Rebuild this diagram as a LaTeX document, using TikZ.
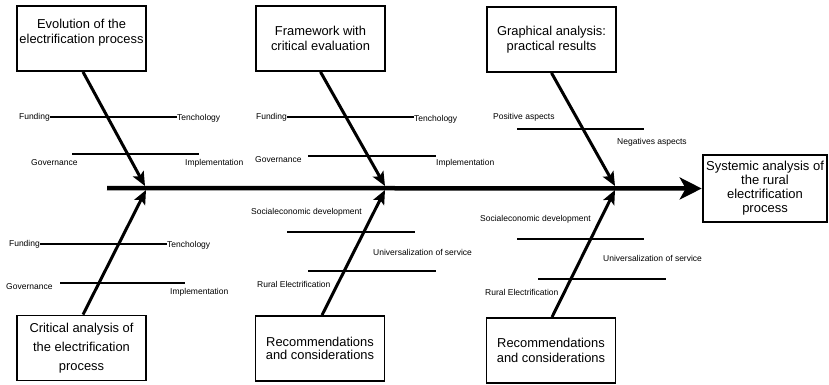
\documentclass[tikz,border=0pt]{standalone}
\usepackage{fontspec}
\setmainfont{Liberation Sans}
\usetikzlibrary{arrows.meta}
\begin{document}
\begin{tikzpicture}[x=1pt,y=-1pt,
  box/.style={draw,line width=1.8pt,minimum width=129pt,minimum height=65pt,inner sep=0pt,align=center,font=\fontsize{12.9}{14.5}\selectfont},
  lbl/.style={inner sep=0pt,font=\fontsize{8.5}{10}\selectfont},
  branch/.style={line width=1.4pt},
  bone/.style={line width=3pt,-{Stealth[length=14pt,width=12pt,inset=3pt]}},
  spine/.style={line width=4.5pt,-{Stealth[length=22pt,width=22pt,inset=6pt]}}]
\useasboundingbox (0,0) rectangle (829,384);
% boxes
\node[box] (b1) at (81.5,38.5) {Evolution of the\\electrification process\\\mbox{}};
\node[box] (b2) at (320.5,38.5) {Framework with\\critical evaluation};
\node[box] (b3) at (551.5,39.5) {Graphical analysis:\\practical results};
\node[box,font=\fontsize{12.9}{19}\selectfont] (b4) at (81.5,348) {Critical analysis of\\the electrification\\process};
\node[box,font=\fontsize{12.9}{13.5}\selectfont] (b5) at (320,348.5) {Recommendations\\and considerations};
\node[box,font=\fontsize{12.9}{14.5}\selectfont] (b6) at (551,350.5) {Recommendations\\and considerations};
\node[box,line width=2.6pt,minimum width=124pt,minimum height=67pt,font=\fontsize{13}{14}\selectfont] (res) at (765,188.5) {Systemic analysis of\\the rural\\electrification\\process};
% spine
\coordinate (s0) at (107,188);
\draw[spine] (s0) -- (res.west);
% tips on spine
\coordinate (t1) at (145,186);
\coordinate (t2) at (385,186);
\coordinate (t3) at (615,186);
\coordinate (u1) at (146,190);
\coordinate (u2) at (385,190);
\coordinate (u3) at (615,190);
\draw[bone] ([xshift=1.5pt]b1.south) -- (t1);
\draw[bone] (b2.south) -- (t2);
\draw[bone] (b3.south) -- (t3);
\draw[bone] ([xshift=1.5pt]b4.north) -- (u1);
\draw[bone] ([xshift=2pt]b5.north) -- (u2);
\draw[bone] ([xshift=1pt]b6.north) -- (u3);
% top group 1
\node[lbl,anchor=east] (f1) at (50,117) {Funding};
\node[lbl,anchor=west] (k1) at (177,118) {Tenchology};
\draw[branch] (f1.east) -- (k1.west |- f1.east);
\node[lbl,anchor=west] (g1) at (31,163) {Governance};
\node[lbl,anchor=west] (i1) at (185,163) {Implementation};
\coordinate (l2a) at (72,154); \coordinate (l2b) at (199,154);
\draw[branch] (l2a) -- (l2b);
% top group 2
\node[lbl,anchor=east] (f2) at (287,117) {Funding};
\node[lbl,anchor=west] (k2) at (414,119) {Tenchology};
\draw[branch] (f2.east) -- (k2.west |- f2.east);
\node[lbl,anchor=west] (g2) at (255,160) {Governance};
\node[lbl,anchor=west] (i2) at (436,163) {Implementation};
\coordinate (l4a) at (308,156); \coordinate (l4b) at (436,156);
\draw[branch] (l4a) -- (l4b);
% top group 3
\node[lbl,anchor=west] (p3) at (493,117) {Positive aspects};
\node[lbl,anchor=west] (n3) at (617,142) {Negatives aspects};
\coordinate (l5a) at (517,129); \coordinate (l5b) at (644,129);
\draw[branch] (l5a) -- (l5b);
% bottom group 1
\node[lbl,anchor=east] (f4) at (40,244) {Funding};
\node[lbl,anchor=west] (k4) at (167,245) {Tenchology};
\draw[branch] (f4.east) -- (k4.west |- f4.east);
\node[lbl,anchor=west] (g4) at (6,287) {Governance};
\node[lbl,anchor=west] (i4) at (170,292) {Implementation};
\coordinate (l7a) at (60,283); \coordinate (l7b) at (185,283);
\draw[branch] (l7a) -- (l7b);
% bottom group 2
\node[lbl,anchor=west] (s5) at (251,212) {Socialeconomic development};
\node[lbl,anchor=west] (v5) at (373,252) {Universalization of service};
\node[lbl,anchor=west] (r5) at (257,284) {Rural Electrification};
\coordinate (l8a) at (287,232); \coordinate (l8b) at (415,232);
\coordinate (l9a) at (308,271); \coordinate (l9b) at (436,271);
\draw[branch] (l8a) -- (l8b);
\draw[branch] (l9a) -- (l9b);
% bottom group 3
\node[lbl,anchor=west] (s6) at (480,219) {Socialeconomic development};
\node[lbl,anchor=west] (v6) at (603,258) {Universalization of service};
\node[lbl,anchor=west] (r6) at (485,292) {Rural Electrification};
\coordinate (l10a) at (517,239); \coordinate (l10b) at (644,239);
\coordinate (l11a) at (538,279); \coordinate (l11b) at (666,279);
\draw[branch] (l10a) -- (l10b);
\draw[branch] (l11a) -- (l11b);
\end{tikzpicture}
\end{document}
